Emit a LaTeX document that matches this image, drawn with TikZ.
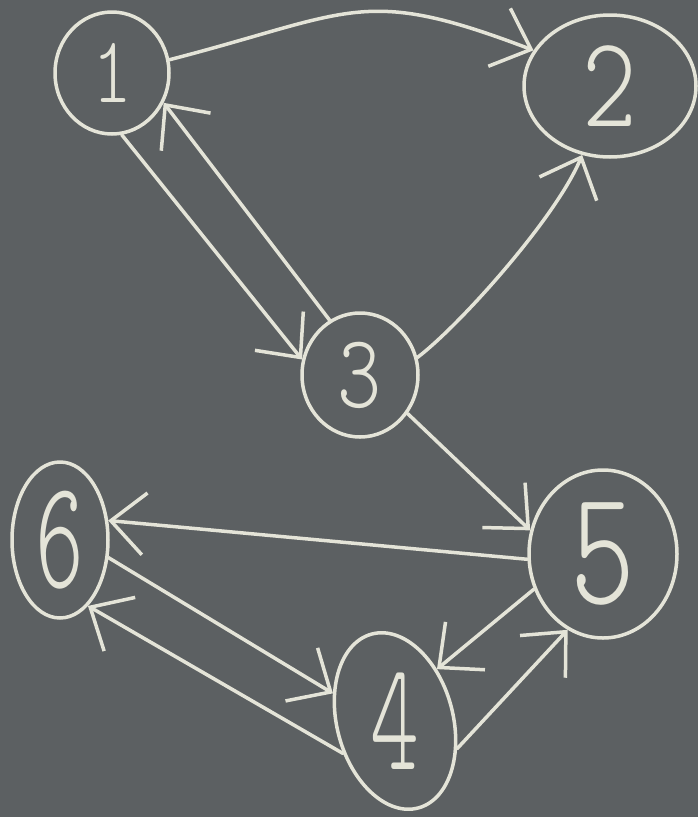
\documentclass[tikz,border=0pt]{standalone}
\usetikzlibrary{shapes.geometric,arrows.meta}
\definecolor{board}{RGB}{92,96,98}
\definecolor{chalkc}{RGB}{228,228,216}
\newcommand{\chalkfont}[1]{\fontfamily{lmtt}\fontseries{l}\fontsize{#1}{#1}\selectfont}
\newcommand{\digit}[3]{\scalebox{#2}[1]{\chalkfont{#1}#3}}
\begin{document}
\begin{tikzpicture}[x=1pt,y=1pt,
  chalk/.style={draw=chalkc, line width=3.5pt, line cap=round, line join=round},
  vtx/.style={ellipse, chalk, text=chalkc, inner sep=0pt},
  arr/.style={chalk, -{Straight Barb[length=34pt,width=62pt,line width=3.5pt]}}]
\fill[board] (0,0) rectangle (698,-817);
\useasboundingbox (0,0) rectangle (698,-817);

\node[vtx, minimum width=114pt, minimum height=122pt] (n1) at (112,-73) {\digit{95}{0.8}{1}};
\node[vtx, minimum width=172pt, minimum height=142pt] (n2) at (610,-86) {\digit{130}{0.8}{2}};
\node[vtx, minimum width=116pt, minimum height=124pt] (n3) at (360,-375) {\digit{105}{0.8}{3}};
\node[vtx, minimum width=148pt, minimum height=168pt] (n5) at (603,-554) {\digit{165}{0.75}{5}};
\node[vtx, minimum width=96pt, minimum height=156pt] (n6) at (60,-540) {\digit{155}{0.6}{6}};
\node[vtx, rotate=15, minimum width=116pt, minimum height=180pt] (n4) at (395,-721) {\rotatebox{-15}{\digit{155}{0.6}{4}}};

\draw[arr] (n1.13) .. controls (354,-12) and (362,15) .. (n2.155);
\draw[arr] (n1.-81) -- (n3.165);
\draw[arr] (n3.119) -- (n1.-30);
\draw[arr] (n3.17) .. controls (459,-326) and (556,-218) .. (n2.248);
\draw[arr] (n3.-39) -- (n5.162);
\draw[arr] (n5.184) -- (n6.22);
\draw[arr] (n6.-20) -- (n4.141);
\draw[arr] (n4.197) -- (n6.-67);
\draw[arr] (n5.207) -- (n4.36);
\draw[arr] (n4.-39) -- (n5.245);
\end{tikzpicture}
\end{document}
